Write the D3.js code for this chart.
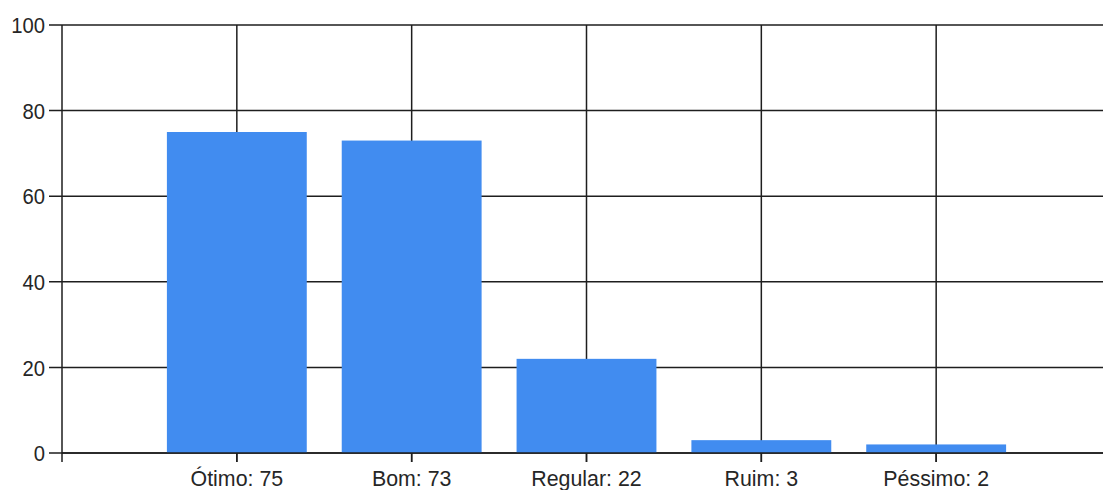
<!DOCTYPE html>
<html>
<head>
<meta charset="utf-8">
<script src="https://cdn.jsdelivr.net/npm/d3@7"></script>
<style>
  html, body { margin: 0; padding: 0; background: #ffffff; }
  svg { display: block; }
  text { font-family: "Liberation Sans", Arial, sans-serif; fill: #262626; }
</style>
</head>
<body>
<svg id="chart" width="1103" height="490"></svg>
<script>
// Survey ratings
const categories = ["Ótimo", "Bom", "Regular", "Ruim", "Péssimo"];
const counts = [75, 73, 22, 3, 2];
const yTicks = [0, 20, 40, 60, 80, 100];

const svg = d3.select("#chart");
const plotLeft = 62, plotTop = 25, plotBottom = 453, plotRight = 1111;

// Categories sit at integer positions 1..n on a continuous axis (0..n+1)
const x = d3.scaleLinear().domain([0, categories.length + 1]).range([plotLeft, plotRight]);
const y = d3.scaleLinear().domain([0, 100]).range([plotBottom, plotTop]);
const step = x(1) - x(0);
const barW = step * 0.8;

const lineColor = "#1e1e1e";

// Horizontal gridlines + left tick marks
const yAxis = svg.append("g");
yAxis.selectAll("line.grid").data(yTicks).enter().append("line")
  .attr("x1", plotLeft - 13).attr("x2", 1103)
  .attr("y1", d => y(d)).attr("y2", d => y(d))
  .attr("stroke", lineColor).attr("stroke-width", 1.5);
yAxis.selectAll("text").data(yTicks).enter().append("text")
  .attr("transform", d => `translate(${plotLeft - 17},${y(d)}) scale(0.9,1)`)
  .attr("dy", "0.36em")
  .attr("text-anchor", "end")
  .attr("font-size", 22.5)
  .text(d => d);

// Vertical gridlines at category positions
const xAxis = svg.append("g");
xAxis.selectAll("line.grid").data(categories).enter().append("line")
  .attr("x1", (d, i) => x(i + 1)).attr("x2", (d, i) => x(i + 1))
  .attr("y1", plotTop).attr("y2", plotBottom + 9)
  .attr("stroke", lineColor).attr("stroke-width", 1.5);

// Bars
svg.append("g").selectAll("rect").data(counts).enter().append("rect")
  .attr("x", (d, i) => x(i + 1) - barW / 2)
  .attr("width", barW)
  .attr("y", d => y(d))
  .attr("height", d => y(0) - y(d))
  .attr("fill", "#418cf0");

// Axis lines drawn over the bars
svg.append("line")
  .attr("x1", plotLeft).attr("x2", 1103).attr("y1", plotBottom).attr("y2", plotBottom)
  .attr("stroke", lineColor).attr("stroke-width", 1.5);
svg.append("line")
  .attr("x1", plotLeft).attr("x2", plotLeft).attr("y1", plotTop).attr("y2", plotBottom + 9)
  .attr("stroke", lineColor).attr("stroke-width", 1.5);
svg.selectAll("line.xtick").data(categories).enter().append("line")
  .attr("class", "xtick")
  .attr("x1", (d, i) => x(i + 1)).attr("x2", (d, i) => x(i + 1))
  .attr("y1", plotBottom).attr("y2", plotBottom + 9)
  .attr("stroke", lineColor).attr("stroke-width", 1.5);

// Category labels with values
svg.append("g").selectAll("text").data(categories).enter().append("text")
  .attr("transform", (d, i) => `translate(${x(i + 1)},486) scale(0.95,1)`)
  .attr("text-anchor", "middle")
  .attr("font-size", 22.5)
  .text((d, i) => `${d}: ${counts[i]}`);
</script>
</body>
</html>
